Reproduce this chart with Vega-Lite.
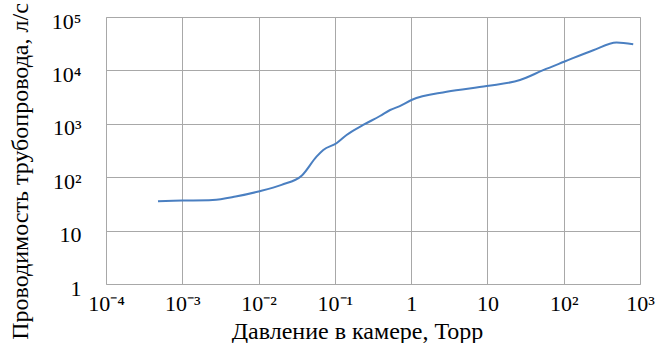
{
  "$schema": "https://vega.github.io/schema/vega-lite/v6.json",
  "width": 534,
  "height": 267,
  "autosize": {"type": "none"},
  "padding": {"left": 106, "top": 17, "right": 16, "bottom": 59},
  "background": "white",
  "config": {
    "view": {"stroke": "#c0c0c0", "strokeWidth": 1},
    "font": "Liberation Serif",
    "axis": {"labelFont": "Liberation Serif", "titleFont": "Liberation Serif"}
  },
  "data": {
    "values": [
      {"p": 0.00048, "c": 35.6},
      {"p": 0.001, "c": 36.5},
      {"p": 0.0025, "c": 37.5},
      {"p": 0.005, "c": 43.4},
      {"p": 0.01, "c": 54},
      {"p": 0.02, "c": 72},
      {"p": 0.037, "c": 108},
      {"p": 0.0575, "c": 243},
      {"p": 0.0705, "c": 324},
      {"p": 0.105, "c": 432},
      {"p": 0.1425, "c": 618},
      {"p": 0.235, "c": 950},
      {"p": 0.39, "c": 1400},
      {"p": 0.53, "c": 1812},
      {"p": 0.71, "c": 2140},
      {"p": 1.01, "c": 2790},
      {"p": 2.92, "c": 3980},
      {"p": 9.8, "c": 5100},
      {"p": 26.7, "c": 6600},
      {"p": 53.8, "c": 10100},
      {"p": 101, "c": 14500},
      {"p": 244, "c": 23900},
      {"p": 493, "c": 33300},
      {"p": 815, "c": 31000}
    ]
  },
  "mark": {"type": "line", "color": "#4a7fc1", "strokeWidth": 2, "interpolate": "monotone"},
  "encoding": {
    "x": {
      "field": "p",
      "type": "quantitative",
      "scale": {"type": "log", "domain": [0.0001, 1000], "nice": false},
      "axis": {
        "values": [0.0001, 0.001, 0.01, 0.1, 1, 10, 100, 1000],
        "labelExpr": "['10⁻⁴','10⁻³','10⁻²','10⁻¹','1','10','10²','10³'][round(log(datum.value)/LN10)+4]",
        "title": "Давление в камере, Торр",
        "titleFontSize": 24,
        "titleFontWeight": "normal",
        "titleColor": "#000",
        "titleX": 251,
        "titleY": 54,
        "titleAlign": "center",
        "titleBaseline": "alphabetic",
        "labelFontSize": 22,
        "labelColor": "#000",
        "labelPadding": 9,
        "ticks": false,
        "domain": false,
        "grid": true,
        "gridColor": "#a8a8a8",
        "gridWidth": 1,
        "labelFlush": false,
        "labelOverlap": false
      }
    },
    "y": {
      "field": "c",
      "type": "quantitative",
      "scale": {"type": "log", "domain": [1, 100000], "nice": false},
      "axis": {
        "values": [1, 10, 100, 1000, 10000, 100000],
        "labelExpr": "['1','10','10²','10³','10⁴','10⁵'][round(log(datum.value)/LN10)]",
        "title": "Проводимость трубопровода, л/с",
        "titleFontSize": 24,
        "titleFontWeight": "normal",
        "titleColor": "#000",
        "titleX": -79,
        "titleY": 154,
        "titleAlign": "center",
        "titleBaseline": "alphabetic",
        "titleAngle": -90,
        "labelFontSize": 22,
        "labelColor": "#000",
        "labelPadding": 25,
        "labelOffset": 4,
        "ticks": false,
        "domain": false,
        "grid": true,
        "gridColor": "#a8a8a8",
        "gridWidth": 1,
        "labelFlush": false,
        "labelOverlap": false
      }
    }
  }
}
